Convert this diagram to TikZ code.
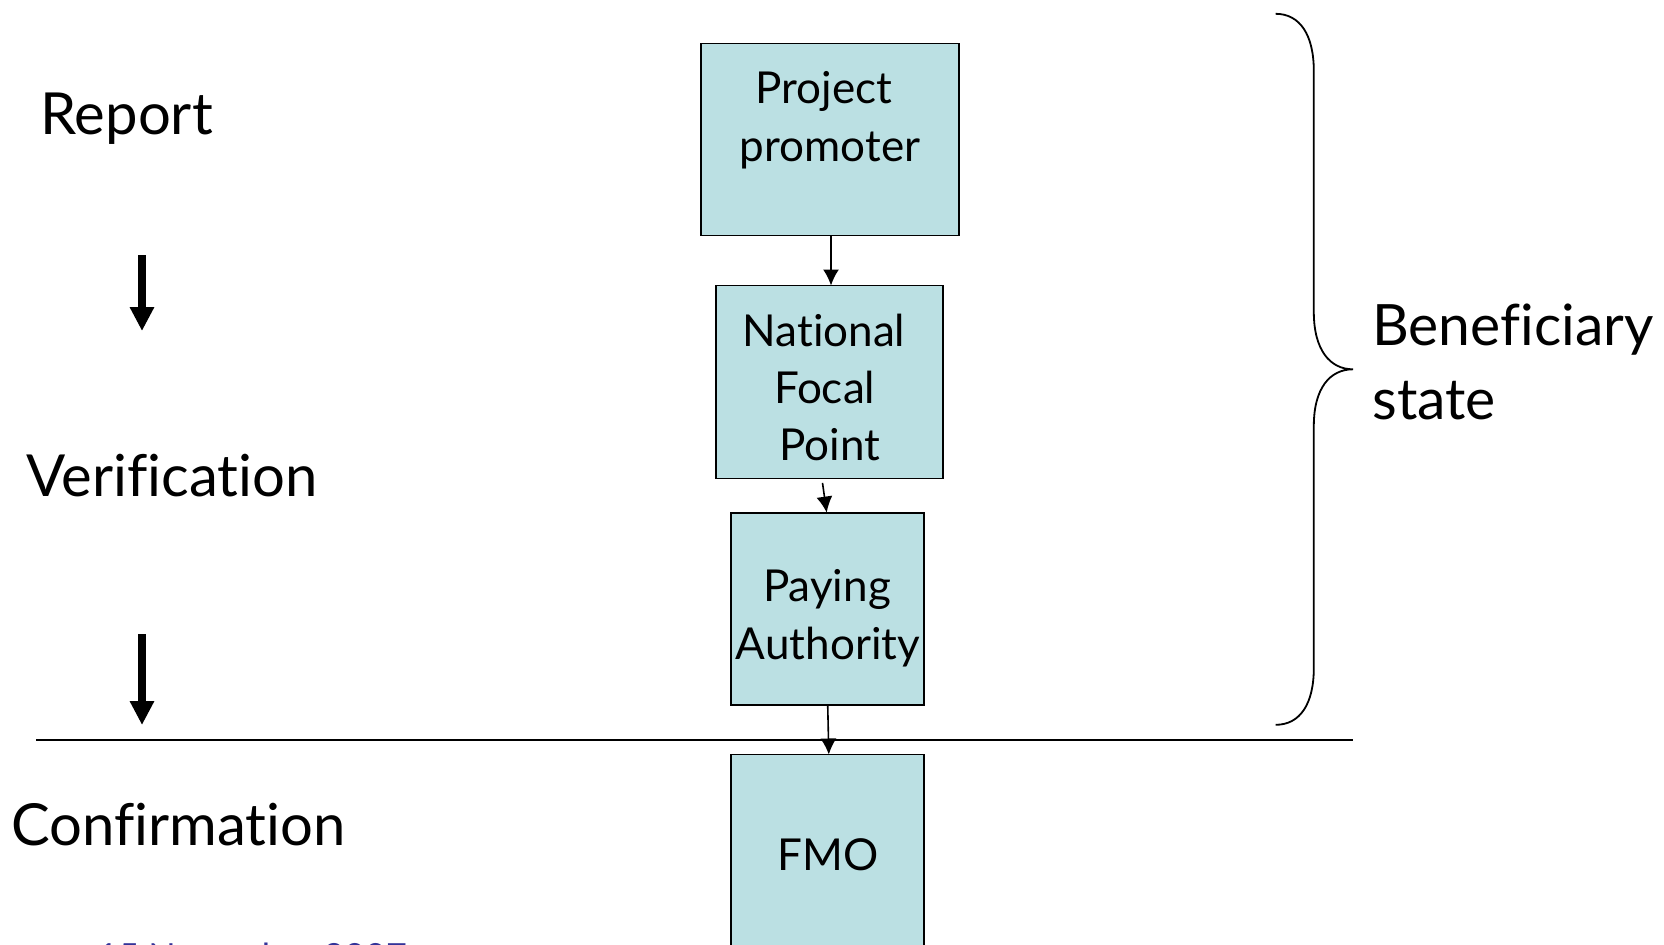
\documentclass[tikz,border=0pt]{standalone}
\usepackage{fontspec}
\setmainfont[Ligatures=NoCommon]{Lato}
\usetikzlibrary{arrows.meta,calc}
\definecolor{boxfill}{HTML}{BBE0E3}
\definecolor{datecol}{HTML}{333399}
\begin{document}
\begin{tikzpicture}[x=0.5pt,y=-0.5pt,
 box/.style={draw=black,line width=0.9pt,fill=boxfill,inner sep=0pt,outer sep=0pt},
 boxtxt/.style={anchor=base,font=\fontsize{22}{26}\selectfont,inner sep=0pt},
 biglbl/.style={anchor=base west,font=\fontsize{29}{34}\selectfont,inner sep=0pt},
 sidelbl/.style={anchor=base west,font=\fontsize{28.5}{34}\selectfont,inner sep=0pt},
 conn/.style={line width=0.8pt,-{Latex[length=8pt,width=8pt]}},
 bigarrow/.style={line width=3.85pt,-{Triangle[length=12pt,width=11.5pt]}},
 brace/.style={line width=0.9pt},
 sepline/.style={line width=0.8pt}]
\useasboundingbox (0,0) rectangle (1664,944);
\clip (0,0) rectangle (1664,944);
% boxes
\node[box,minimum width=129pt,minimum height=96pt] (pp) at (830,139.5) {};
\node[box,minimum width=113.5pt,minimum height=96.5pt] (nfp) at (829.5,382) {};
\node[box,minimum width=96.5pt,minimum height=96pt] (pa) at (827.5,608.6) {};
\node[box,minimum width=96.5pt,minimum height=96pt] (fmo) at (827.5,850.5) {};
% box texts
\node[boxtxt] (t1) at (824,103) {Project};
\node[boxtxt] (t2) at (830,161) {promoter};
\node[boxtxt] (t3) at (824,346) {National};
\node[boxtxt] (t4) at (824.6,403) {Focal};
\node[boxtxt] (t5) at (830,460.5) {Point};
\node[boxtxt] (t6) at (827,601.7) {Paying};
\node[boxtxt] (t7) at (828,659) {Authority};
\node[boxtxt] (t8) at (828,870) {FMO};
% connectors
\draw[conn] ([xshift=0.5pt]pp.south) -- ([xshift=0.75pt]nfp.south |- nfp.north);
\draw[conn] ([xshift=-3.5pt,yshift=-2.2pt]nfp.south) -- ([xshift=-0.4pt]pa.north);
\draw[conn] ([xshift=0.1pt]pa.south) -- ([xshift=0.65pt]fmo.north);
% left labels
\node[biglbl] (rep) at (40,134.8) {Report};
\node[biglbl] (ver) at (26.5,496.6) {Verification};
\node[biglbl] (conf) at (10.6,845.8) {Confirmation};
% big arrows
\coordinate (a1s) at (142,255);
\coordinate (a1e) at (142,331);
\coordinate (a2s) at (142,634);
\coordinate (a2e) at (142,725);
\draw[bigarrow] (a1s) -- (a1e);
\draw[bigarrow] (a2s) -- (a2e);
% separator
\coordinate (l1) at (36,739.7);
\coordinate (l2) at (1353,739.7);
\draw[sepline] (l1) -- (l2);
% brace
\draw[brace] (1275.6,13.8) .. controls (1300,13.8) and (1313.8,35) .. (1313.8,71)
  -- (1313.8,312)
  .. controls (1313.8,350) and (1330,369.3) .. (1353,369.3)
  .. controls (1330,369.3) and (1313.8,388) .. (1313.8,426)
  -- (1313.8,668)
  .. controls (1313.8,704) and (1300,724.8) .. (1275.6,724.8);
\node[sidelbl] (ben) at (1372,345) {Beneficiary};
\node[sidelbl] (st) at (1372,419) {state};
% date (cut off at the bottom edge, as in the reference)
\node[anchor=base west,font=\fontsize{18}{22}\selectfont,text=datecol,inner sep=0pt] (date) at (97,969.3) {15 November 2007};
\end{tikzpicture}
\end{document}
